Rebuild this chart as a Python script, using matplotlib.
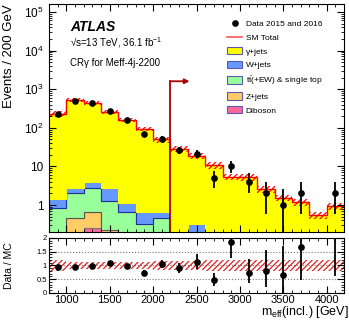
import numpy as np
import matplotlib
matplotlib.use("Agg")
import matplotlib.pyplot as plt
from matplotlib.patches import Patch
from matplotlib.lines import Line2D
from matplotlib.ticker import MultipleLocator, LogLocator, FuncFormatter, NullFormatter

plt.rcParams['font.family'] = ['Liberation Sans', 'DejaVu Sans']
plt.rcParams['mathtext.fontset'] = 'custom'
plt.rcParams['mathtext.rm'] = 'Liberation Sans'
plt.rcParams['mathtext.it'] = 'Liberation Sans:italic'
plt.rcParams['hatch.linewidth'] = 0.9

# binning in m_eff(incl.) [GeV]
edges = [800, 1000, 1200, 1400, 1600, 1800, 2000, 2200, 2400, 2600,
         2800, 3000, 3200, 3400, 3600, 3800, 4000, 4200]

# observed events
data = [224, 497, 431, 274, 155, 70, 52, 26, 21, 5, 10, 4, 2, 1, 2, 0, 2]

# backgrounds (events per bin)
gamma_jets = [231.5, 515, 431, 251, 156, 93.4, 49.3, 28.5, 18.2, 10.7,
              5.3, 5.3, 2.5, 1.5, 1.17, 0.53, 0.93]
w_jets = [0.60, 0.80, 1.20, 1.53, 0.46, 0.32, 0.21, 0.03, 0.18, 0.04,
          0.04, 0.03, 0.02, 0.02, 0.01, 0.01, 0.01]
ttbar = [0.74, 1.53, 2.14, 1.04, 0.52, 0.24, 0.37, 0.07, 0.10, 0.05,
         0.04, 0.03, 0.02, 0.01, 0.01, 0.01, 0.01]
z_jets = [0.10, 0.43, 0.41, 0.19, 0.10, 0.07, 0.07, 0.045, 0.045, 0.025,
          0.02, 0.02, 0.01, 0.01, 0.01, 0.005, 0.005]
diboson = [0.02, 0.04, 0.25, 0.04, 0.02, 0.01, 0.01, 0.005, 0.005, 0.005,
           0.003, 0.003, 0.002, 0.002, 0.001, 0.001, 0.001]

# relative uncertainty on SM total
mc_unc = [0.20, 0.12, 0.12, 0.12, 0.12, 0.12, 0.17, 0.17, 0.17, 0.20,
          0.20, 0.20, 0.20, 0.20, 0.20, 0.20, 0.20]

cut_value = 2200
arrow_end = 2420
arrow_height = 1600

# stack from bottom to top
stack = [
    (diboson, '#FF6699', '#993366', 'Diboson'),
    (z_jets, '#FFCC66', '#777777', 'Z+jets'),
    (ttbar, '#99FF99', '#555555', r't$\bar{\mathrm{t}}$(+EW) & single top'),
    (w_jets, '#6699FF', '#1F2FA0', 'W+jets'),
    (gamma_jets, '#FFFF00', '#FFFF00', '\u03b3+jets'),
]

edges = np.array(edges)
centers = 0.5 * (edges[:-1] + edges[1:])
data = np.array(data, dtype=float)
mc_total = np.sum([np.array(s[0]) for s in stack], axis=0)
unc = np.array(mc_unc)

fig = plt.figure(figsize=(3.49, 3.23), dpi=100)
ax = fig.add_axes([0.1404, 0.2817, 0.8453, 0.7059])
rax = fig.add_axes([0.1404, 0.0929, 0.8453, 0.1703])

# stacked backgrounds
bottom = np.full(len(centers), 1e-4)
for vals, fc, ec, lab in stack:
    top = bottom + np.array(vals)
    ax.stairs(top, edges, baseline=bottom, fill=True, facecolor=fc,
              edgecolor=ec, linewidth=0.8)
    bottom = top

# SM total with hatched uncertainty
lo = mc_total * (1 - unc)
hi = mc_total * (1 + unc)
ax.fill_between(edges, np.append(lo, lo[-1]), np.append(hi, hi[-1]), step='post',
                facecolor='none', edgecolor='red', hatch='//////', linewidth=0)
ax.stairs(mc_total, edges, baseline=None, color='red', linewidth=1.0)

# data
mask = data > 0
err_lo = np.sqrt(data) - 1e-6
err_hi = 0.5 + np.sqrt(data + 0.25)
ax.errorbar(centers[mask], data[mask], yerr=[err_lo[mask], err_hi[mask]],
            fmt='o', color='black', ms=3.8, elinewidth=1.3, capsize=0, zorder=5)

# cut arrow
ax.plot([cut_value, cut_value], [0.1, arrow_height], color='#AA0000', lw=1.3)
ax.annotate('', xy=(arrow_end, arrow_height), xytext=(cut_value, arrow_height),
            arrowprops=dict(arrowstyle='-|>', color='#AA0000', lw=1.3,
                            mutation_scale=7, shrinkA=0, shrinkB=0))

ax.set_xlim(800, 4200)
ax.set_yscale('log')
ax.set_ylim(0.2, 1.6e5)


def log_label(v, pos):
    if v == 1:
        return '1'
    if v == 10:
        return '10'
    return '$10^{%d}$' % int(round(np.log10(v)))


ax.yaxis.set_major_locator(LogLocator(base=10, numticks=12))
ax.yaxis.set_minor_locator(LogLocator(base=10, subs=np.arange(2, 10), numticks=12))
ax.yaxis.set_major_formatter(FuncFormatter(log_label))
ax.yaxis.set_minor_formatter(NullFormatter())
ax.xaxis.set_major_locator(MultipleLocator(500))
ax.xaxis.set_minor_locator(MultipleLocator(100))
ax.tick_params(axis='x', labelbottom=False)
ax.tick_params(axis='y', labelsize=8.5, pad=4)
ax.set_ylabel('Events / 200 GeV', loc='top', fontsize=9.5)
ax.yaxis.set_label_coords(-0.115, 1.0)

# labels
ax.text(0.071, 0.899, 'ATLAS', transform=ax.transAxes, fontsize=10,
        fontweight='bold', fontstyle='italic', va='center')
ax.text(0.071, 0.829, '\u221as=13 TeV, 36.1 fb$^{-1}$', transform=ax.transAxes,
        fontsize=7, va='center')
ax.text(0.071, 0.741, 'CR\u03b3 for Meff-4j-2200', transform=ax.transAxes,
        fontsize=7, va='center')

# legend
handles = [Line2D([], [], marker='o', color='black', ls='none', ms=3.8),
           Line2D([], [], color='#FF5555', lw=1.2)]
labels = ['Data 2015 and 2016', 'SM Total']
for vals, fc, ec, lab in stack[::-1]:
    handles.append(Patch(facecolor=fc, edgecolor='#5A5AB4', linewidth=0.8))
    labels.append(lab)
ax.legend(handles, labels, loc='upper left', bbox_to_anchor=(0.605, 0.932),
          frameon=False, fontsize=6, handlelength=1.7, handleheight=1.0,
          handletextpad=0.5, labelspacing=0.62, borderpad=0, borderaxespad=0)

# ratio panel
ratio = np.where(mask, data / mc_total, np.nan)
rax.fill_between(edges, np.append(1 - unc, 1 - unc[-1]), np.append(1 + unc, 1 + unc[-1]),
                 step='post', facecolor='none', edgecolor='#DD2222', hatch='//////',
                 linewidth=0)
for v in [0.5, 1.0, 1.5]:
    rax.axhline(v, ls=':', color='#777777', lw=0.8, zorder=0)
rax.errorbar(centers[mask], ratio[mask],
             yerr=[err_lo[mask] / mc_total[mask], err_hi[mask] / mc_total[mask]],
             fmt='o', color='black', ms=3.8, elinewidth=1.3, capsize=0, zorder=5)
rax.set_xlim(800, 4200)
rax.set_ylim(0, 2)
rax.yaxis.set_major_locator(MultipleLocator(0.5))
rax.yaxis.set_minor_locator(MultipleLocator(0.1))
rax.yaxis.set_major_formatter(FuncFormatter(lambda v, p: '%g' % v))
rax.xaxis.set_major_locator(MultipleLocator(500))
rax.xaxis.set_minor_locator(MultipleLocator(100))
rax.tick_params(axis='y', labelsize=5.5, pad=1.5)
rax.tick_params(axis='x', labelsize=8, pad=1.5)
rax.set_ylabel('Data / MC', fontsize=7.5)
rax.yaxis.set_label_coords(-0.12, 0.5)
rax.set_xlabel(r'm$_{\mathrm{eff}}$(incl.) [GeV]', loc='right', fontsize=9)
rax.xaxis.set_label_coords(1.015, -0.2)
rax.xaxis.label.set_va('top')

for a in (ax, rax):
    a.tick_params(which='both', direction='in', top=True, right=True)
    a.tick_params(which='major', length=5, width=0.8)
    a.tick_params(which='minor', length=2.5, width=0.6)
    for s in a.spines.values():
        s.set_linewidth(0.8)

fig.savefig('out.png', dpi=100)
